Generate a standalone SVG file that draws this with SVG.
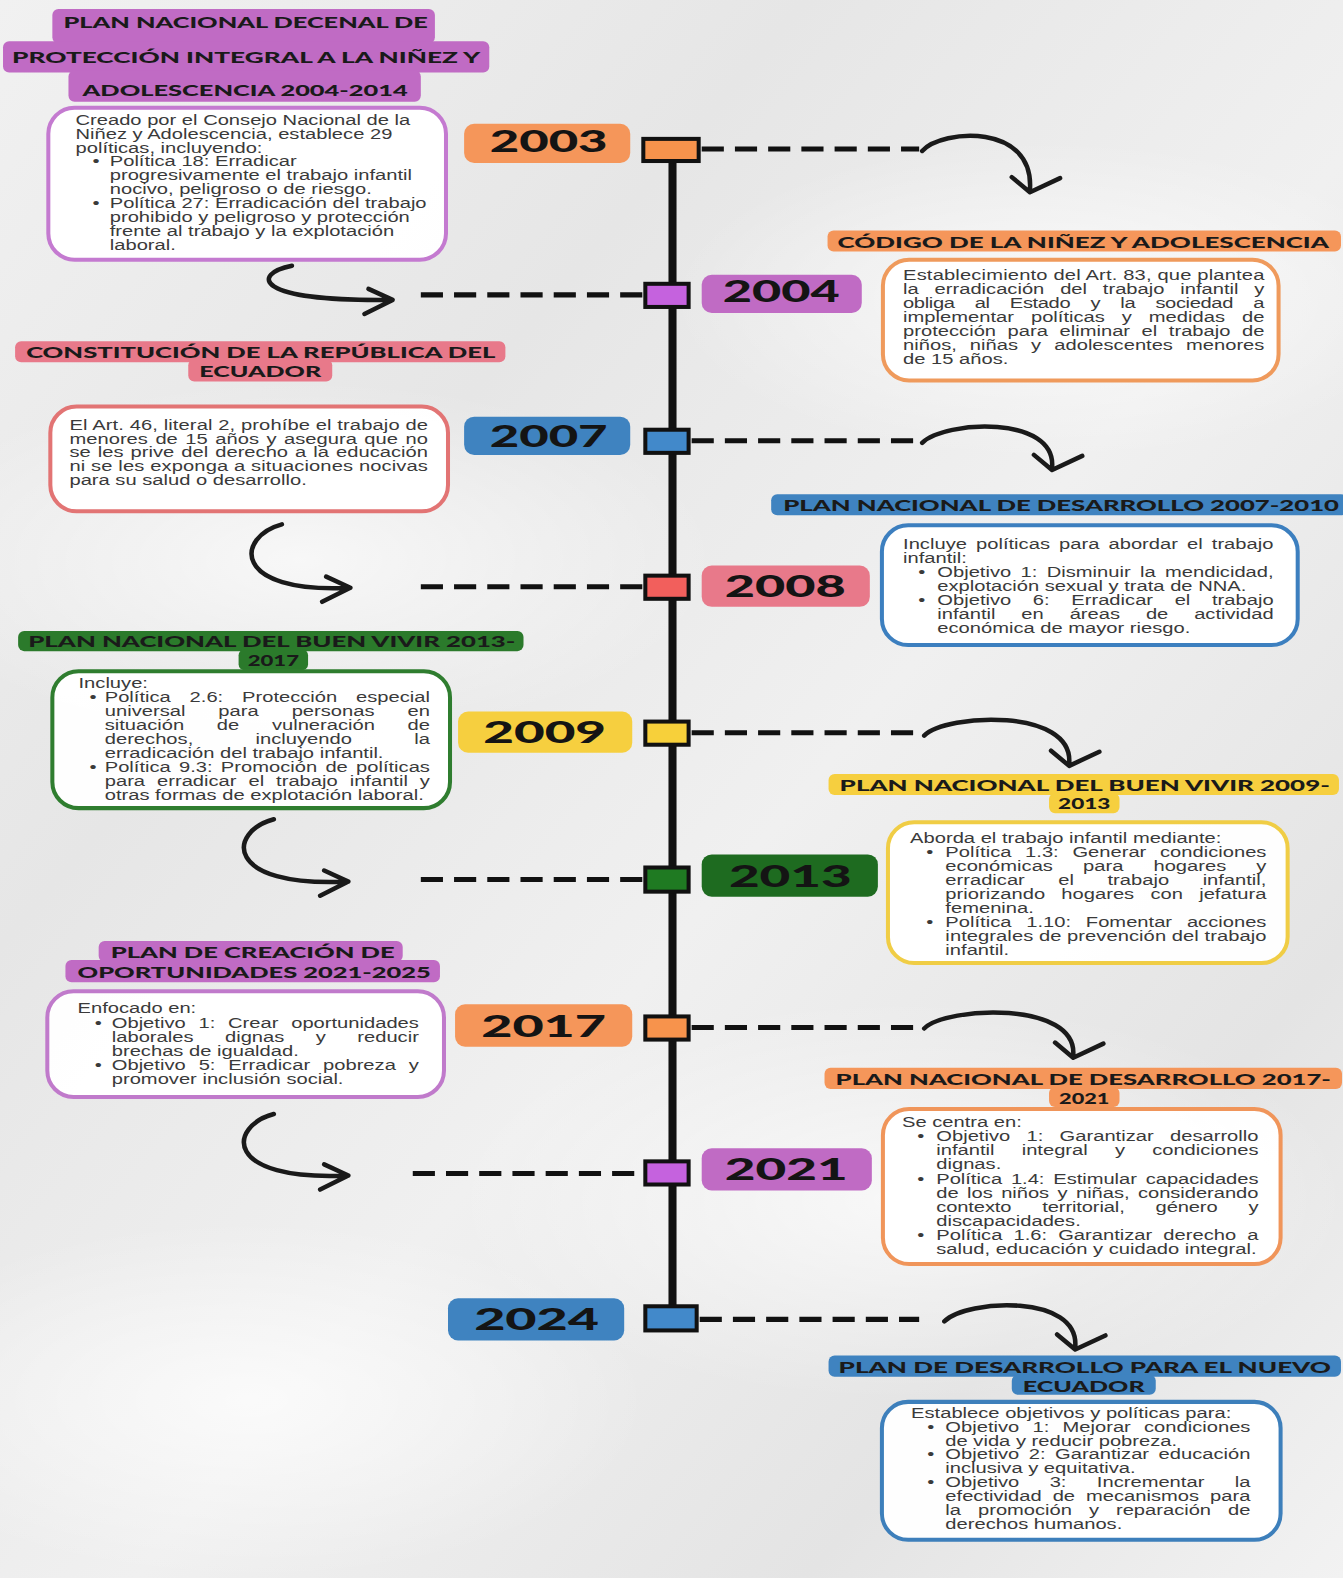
<svg xmlns="http://www.w3.org/2000/svg" width="1343" height="1578" viewBox="0 0 1343 1578">
<defs>
<linearGradient id="bg" x1="0" y1="0" x2="1" y2="1">
<stop offset="0" stop-color="#f1f1f1"/>
<stop offset="0.3" stop-color="#e6e6e6"/>
<stop offset="0.55" stop-color="#f0f0f0"/>
<stop offset="0.8" stop-color="#e4e4e4"/>
<stop offset="1" stop-color="#f2f2f2"/>
</linearGradient>
<radialGradient id="blob" cx="0.5" cy="0.5" r="0.5">
<stop offset="0" stop-color="#ffffff" stop-opacity="0.7"/>
<stop offset="1" stop-color="#ffffff" stop-opacity="0"/>
</radialGradient>
<style>
.t{font-family:"Liberation Sans",Arial,sans-serif;font-size:14px;fill:#3a3a3a}
.h{font-family:Lato,"DejaVu Sans",sans-serif;font-weight:900;font-size:15px;fill:#1a1a1a}
.y{font-family:Lato,"DejaVu Sans",sans-serif;font-weight:900;font-size:31px;fill:#141414;text-anchor:middle}
.box{fill:#ffffff;fill-opacity:0.96;stroke-width:4}
.sq{stroke:#111111;stroke-width:4}
.dash{stroke:#111111;stroke-width:5;stroke-dasharray:22 11;fill:none}
.arr{fill:none;stroke:#1a1a1a;stroke-width:4.5;stroke-linecap:round;stroke-linejoin:round}
.pu{fill:#c06bc4}.or{fill:#f5965a}.pk{fill:#e8798a}.bl{fill:#3f83c0}.gr{fill:#2b7a2b}.ye{fill:#f6cf3f}
</style>
</defs>
<rect x="0" y="0" width="1343" height="1578" fill="url(#bg)"/>
<ellipse cx="300" cy="560" rx="420" ry="180" fill="url(#blob)"/>
<ellipse cx="1050" cy="300" rx="380" ry="160" fill="url(#blob)"/>
<ellipse cx="900" cy="1200" rx="450" ry="200" fill="url(#blob)"/>
<ellipse cx="250" cy="1400" rx="400" ry="180" fill="url(#blob)"/>
<g transform="scale(1.00675 1.00638)">

<g id="connectors">
<line x1="668" y1="158" x2="668" y2="1300" stroke="#111111" stroke-width="8"/>
<line class="dash" x1="697" y1="148" x2="913" y2="148"/>
<line class="dash" x1="418" y1="293" x2="640" y2="293"/>
<line class="dash" x1="687" y1="438" x2="913" y2="438"/>
<line class="dash" x1="418" y1="583" x2="640" y2="583"/>
<line class="dash" x1="687" y1="728" x2="913" y2="728"/>
<line class="dash" x1="418" y1="874" x2="640" y2="874"/>
<line class="dash" x1="687" y1="1021" x2="913" y2="1021"/>
<line class="dash" x1="410" y1="1166" x2="640" y2="1166"/>
<line class="dash" x1="695" y1="1311" x2="913" y2="1311"/>
<path class="arr" d="M916,150 C936,128 1028,122 1023,189 M1005,176 L1023,191 L1053,177"/>
<path class="arr" d="M916,440 C938,418 1050,412 1045,465 M1027,452 L1045,467 L1075,453"/>
<path class="arr" d="M918,731 C940,709 1067,703 1062,759 M1044,746 L1062,761 L1092,747"/>
<path class="arr" d="M918,1022 C940,1000 1071,994 1066,1049 M1048,1036 L1066,1051 L1096,1037"/>
<path class="arr" d="M938,1313 C960,1291 1073,1285 1068,1339 M1050,1326 L1068,1341 L1098,1327"/>
<path class="arr" d="M290,264 C250,272 250,300 390,298 M366,287 L390,298 L362,312"/>
<path class="arr" d="M280,521 C235,533 228,590 348,584 M324,573 L348,584 L320,598"/>
<path class="arr" d="M272,814 C227,826 220,882 346,876 M322,865 L346,876 L318,890"/>
<path class="arr" d="M272,1107 C227,1119 220,1174 346,1168 M322,1157 L346,1168 L318,1182"/>
</g>

<g id="y2003"><rect class="sq" x="639" y="138" width="55" height="22" fill="#f7934c"/><rect class="or" x="461" y="123" width="165" height="39" rx="10"/><text class="y" x="545" y="151" textLength="117" lengthAdjust="spacingAndGlyphs">2003</text></g>
<g id="y2004"><rect class="sq" x="641" y="282" width="43" height="23" fill="#c562de"/><rect class="pu" x="697" y="273" width="159" height="38" rx="10"/><text class="y" x="776" y="300" textLength="116" lengthAdjust="spacingAndGlyphs">2004</text></g>
<g id="y2007"><rect class="sq" x="641" y="427" width="43" height="23" fill="#4289ca"/><rect class="bl" x="461" y="414" width="165" height="38" rx="10"/><text class="y" x="545" y="444" textLength="117" lengthAdjust="spacingAndGlyphs">2007</text></g>
<g id="y2008"><rect class="sq" x="641" y="572" width="43" height="23" fill="#f25f5c"/><rect class="pk" x="697" y="562" width="167" height="41" rx="10"/><text class="y" x="780" y="593" textLength="120" lengthAdjust="spacingAndGlyphs">2008</text></g>
<g id="y2009"><rect class="sq" x="641" y="717" width="43" height="23" fill="#f7d03a"/><rect class="ye" x="455" y="707" width="173" height="41" rx="10"/><text class="y" x="541" y="738" textLength="122" lengthAdjust="spacingAndGlyphs">2009</text></g>
<g id="y2013"><rect class="sq" x="641" y="862" width="43" height="24" fill="#1f7a22"/><rect x="697" y="849" width="175" height="42" rx="10" fill="#1e6b20"/><text class="y" x="785" y="881" textLength="122" lengthAdjust="spacingAndGlyphs">2013</text></g>
<g id="y2017"><rect class="sq" x="641" y="1010" width="43" height="23" fill="#f7934c"/><rect class="or" x="452" y="998" width="176" height="42" rx="10"/><text class="y" x="540" y="1030" textLength="124" lengthAdjust="spacingAndGlyphs">2017</text></g>
<g id="y2021"><rect class="sq" x="641" y="1154" width="43" height="23" fill="#c562de"/><rect class="pu" x="697" y="1141" width="169" height="42" rx="10"/><text class="y" x="781" y="1173" textLength="122" lengthAdjust="spacingAndGlyphs">2021</text></g>
<g id="y2024"><rect class="sq" x="641" y="1298" width="51" height="24" fill="#4289ca"/><rect class="bl" x="445" y="1290" width="175" height="42" rx="10"/><text class="y" x="533" y="1322" textLength="124" lengthAdjust="spacingAndGlyphs">2024</text></g>

<g id="n-decenal">
<rect class="pu" x="52" y="9" width="380" height="34" rx="6"/>
<rect class="pu" x="3" y="41" width="483" height="31" rx="6"/>
<rect class="pu" x="68" y="70" width="350" height="31" rx="6"/>
<text class="h" x="63" y="28" textLength="362" lengthAdjust="spacingAndGlyphs">PLAN NACIONAL DECENAL DE</text>
<text class="h" x="12" y="63" textLength="465" lengthAdjust="spacingAndGlyphs">PROTECCIÓN INTEGRAL A LA NIÑEZ Y</text>
<text class="h" x="82" y="95" textLength="323" lengthAdjust="spacingAndGlyphs">ADOLESCENCIA 2004-2014</text>
<rect class="box" x="48" y="107" width="395" height="151" rx="26" stroke="#c47ad0"/>
<g transform="translate(75 0) scale(1.43 1)">
<text class="t" x="0" y="124">Creado por el Consejo Nacional de la</text>
<text class="t" x="0" y="137.8">Niñez y Adolescencia, establece 29</text>
<text class="t" x="0" y="151.6">políticas, incluyendo:</text>
<text class="t" x="11.9" y="165.4">•</text><text class="t" x="23.8" y="165.4">Política 18: Erradicar</text>
<text class="t" x="23.8" y="179.2">progresivamente el trabajo infantil</text>
<text class="t" x="23.8" y="193">nocivo, peligroso o de riesgo.</text>
<text class="t" x="11.9" y="206.8">•</text><text class="t" x="23.8" y="206.8">Política 27: Erradicación del trabajo</text>
<text class="t" x="23.8" y="220.6">prohibido y peligroso y protección</text>
<text class="t" x="23.8" y="234.4">frente al trabajo y la explotación</text>
<text class="t" x="23.8" y="248.2">laboral.</text>
</g>
</g>

<g id="n-codigo">
<rect class="or" x="822" y="229" width="510" height="21" rx="6"/>
<text class="h" x="832" y="246" textLength="488" lengthAdjust="spacingAndGlyphs">CÓDIGO DE LA NIÑEZ Y ADOLESCENCIA</text>
<rect class="box" x="877" y="258" width="393" height="120" rx="26" stroke="#ef9a5c"/>
<g transform="translate(897 0) scale(1.43 1)">
<text class="t" x="0" y="278" textLength="251" lengthAdjust="spacing">Establecimiento del Art. 83, que plantea</text>
<text class="t" x="0" y="292" word-spacing="7.1" textLength="251" lengthAdjust="spacing">la erradicación del trabajo infantil y</text>
<text class="t" x="0" y="306" word-spacing="10.4" textLength="251" lengthAdjust="spacing">obliga al Estado y la sociedad a</text>
<text class="t" x="0" y="320" word-spacing="7.9" textLength="251" lengthAdjust="spacing">implementar políticas y medidas de</text>
<text class="t" x="0" y="334" word-spacing="4.1" textLength="251" lengthAdjust="spacing">protección para eliminar el trabajo de</text>
<text class="t" x="0" y="348" word-spacing="5.2" textLength="251" lengthAdjust="spacing">niños, niñas y adolescentes menores</text>
<text class="t" x="0" y="362">de 15 años.</text>
</g>
</g>

<g id="n-constitucion">
<rect class="pk" x="15" y="339" width="487" height="21" rx="6"/>
<rect class="pk" x="187" y="357" width="143" height="22" rx="6"/>
<text class="h" x="26" y="356" textLength="466" lengthAdjust="spacingAndGlyphs">CONSTITUCIÓN DE LA REPÚBLICA DEL</text>
<text class="h" x="198" y="375" textLength="121" lengthAdjust="spacingAndGlyphs">ECUADOR</text>
<rect class="box" x="50" y="404" width="395" height="104" rx="26" stroke="#e27474"/>
<g transform="translate(69 0) scale(1.43 1)">
<text class="t" x="0" y="427" textLength="249" lengthAdjust="spacing">El Art. 46, literal 2, prohíbe el trabajo de</text>
<text class="t" x="0" y="440.75" word-spacing="1.3" textLength="249" lengthAdjust="spacing">menores de 15 años y asegura que no</text>
<text class="t" x="0" y="454.5" word-spacing="1" textLength="249" lengthAdjust="spacing">se les prive del derecho a la educación</text>
<text class="t" x="0" y="468.25" textLength="249" lengthAdjust="spacing">ni se les exponga a situaciones nocivas</text>
<text class="t" x="0" y="482">para su salud o desarrollo.</text>
</g>
</g>

<g id="n-pnd2007">
<rect class="bl" x="766" y="491" width="572" height="21" rx="6"/>
<text class="h" x="778" y="508" textLength="552" lengthAdjust="spacingAndGlyphs">PLAN NACIONAL DE DESARROLLO 2007-2010</text>
<rect class="box" x="876" y="522" width="413" height="119" rx="26" stroke="#3c7fbf"/>
<g transform="translate(897 0) scale(1.43 1)">
<text class="t" x="0" y="546" word-spacing="2.4" textLength="257.3" lengthAdjust="spacing">Incluye políticas para abordar el trabajo</text>
<text class="t" x="0" y="559.8">infantil:</text>
<text class="t" x="10.5" y="573.6">•</text><text class="t" x="23.8" y="573.6" word-spacing="2.6" textLength="233.6" lengthAdjust="spacing">Objetivo 1: Disminuir la mendicidad,</text>
<text class="t" x="23.8" y="587.4">explotación sexual y trata de NNA.</text>
<text class="t" x="10.5" y="601.2">•</text><text class="t" x="23.8" y="601.2" word-spacing="11.1" textLength="233.6" lengthAdjust="spacing">Objetivo 6: Erradicar el trabajo</text>
<text class="t" x="23.8" y="615" word-spacing="14.1" textLength="233.6" lengthAdjust="spacing">infantil en áreas de actividad</text>
<text class="t" x="23.8" y="628.8">económica de mayor riesgo.</text>
</g>
</g>

<g id="n-buenvivir2013">
<rect class="gr" x="18" y="627" width="502" height="20" rx="6"/>
<rect class="gr" x="237" y="645" width="69" height="21" rx="6"/>
<text class="h" x="28" y="643" textLength="484" lengthAdjust="spacingAndGlyphs">PLAN NACIONAL DEL BUEN VIVIR 2013-</text>
<text class="h" x="246" y="662" textLength="51" lengthAdjust="spacingAndGlyphs">2017</text>
<rect class="box" x="52" y="667" width="395" height="136" rx="26" stroke="#2f7d2f"/>
<g transform="translate(78 0) scale(1.43 1)">
<text class="t" x="0" y="684">Incluye:</text>
<text class="t" x="7.7" y="697.9">•</text><text class="t" x="18.2" y="697.9" word-spacing="9.2" textLength="225.9" lengthAdjust="spacing">Política 2.6: Protección especial</text>
<text class="t" x="18.2" y="711.8" word-spacing="19" textLength="225.9" lengthAdjust="spacing">universal para personas en</text>
<text class="t" x="18.2" y="725.7" word-spacing="18.8" textLength="225.9" lengthAdjust="spacing">situación de vulneración de</text>
<text class="t" x="18.2" y="739.6" word-spacing="39.4" textLength="225.9" lengthAdjust="spacing">derechos, incluyendo la</text>
<text class="t" x="18.2" y="753.5">erradicación del trabajo infantil.</text>
<text class="t" x="7.7" y="767.4">•</text><text class="t" x="18.2" y="767.4" word-spacing="1.8" textLength="225.9" lengthAdjust="spacing">Política 9.3: Promoción de políticas</text>
<text class="t" x="18.2" y="781.3" word-spacing="4.4" textLength="225.9" lengthAdjust="spacing">para erradicar el trabajo infantil y</text>
<text class="t" x="18.2" y="795.2">otras formas de explotación laboral.</text>
</g>
</g>

<g id="n-buenvivir2009">
<rect class="ye" x="823" y="769" width="507" height="21" rx="6"/>
<rect class="ye" x="1042" y="788" width="70" height="20" rx="6"/>
<text class="h" x="834" y="786" textLength="487" lengthAdjust="spacingAndGlyphs">PLAN NACIONAL DEL BUEN VIVIR 2009-</text>
<text class="h" x="1051" y="804" textLength="52" lengthAdjust="spacingAndGlyphs">2013</text>
<rect class="box" x="882" y="817" width="397" height="140" rx="26" stroke="#f0cd45"/>
<g transform="translate(904 0) scale(1.43 1)">
<text class="t" x="0" y="838">Aborda el trabajo infantil mediante:</text>
<text class="t" x="11.2" y="851.9">•</text><text class="t" x="24.5" y="851.9" word-spacing="5.6" textLength="223" lengthAdjust="spacing">Política 1.3: Generar condiciones</text>
<text class="t" x="24.5" y="865.8" word-spacing="17" textLength="223" lengthAdjust="spacing">económicas para hogares y</text>
<text class="t" x="24.5" y="879.7" word-spacing="19.4" textLength="223" lengthAdjust="spacing">erradicar el trabajo infantil,</text>
<text class="t" x="24.5" y="893.6" word-spacing="7.4" textLength="223" lengthAdjust="spacing">priorizando hogares con jefatura</text>
<text class="t" x="24.5" y="907.5">femenina.</text>
<text class="t" x="11.2" y="921.4">•</text><text class="t" x="24.5" y="921.4" word-spacing="6.4" textLength="223" lengthAdjust="spacing">Política 1.10: Fomentar acciones</text>
<text class="t" x="24.5" y="935.3" textLength="223" lengthAdjust="spacing">integrales de prevención del trabajo</text>
<text class="t" x="24.5" y="949.2">infantil.</text>
</g>
</g>

<g id="n-creacion">
<rect class="pu" x="98" y="935" width="302" height="21" rx="6"/>
<rect class="pu" x="65" y="954" width="372" height="22" rx="6"/>
<text class="h" x="110" y="952" textLength="282" lengthAdjust="spacingAndGlyphs">PLAN DE CREACIÓN DE</text>
<text class="h" x="77" y="972" textLength="351" lengthAdjust="spacingAndGlyphs">OPORTUNIDADES 2021-2025</text>
<rect class="box" x="47" y="985" width="394" height="105" rx="26" stroke="#c07acb"/>
<g transform="translate(77 0) scale(1.43 1)">
<text class="t" x="0" y="1007">Enfocado en:</text>
<text class="t" x="11.9" y="1021">•</text><text class="t" x="23.8" y="1021" word-spacing="5" textLength="213.3" lengthAdjust="spacing">Objetivo 1: Crear oportunidades</text>
<text class="t" x="23.8" y="1035" word-spacing="18" textLength="213.3" lengthAdjust="spacing">laborales dignas y reducir</text>
<text class="t" x="23.8" y="1049">brechas de igualdad.</text>
<text class="t" x="11.9" y="1063">•</text><text class="t" x="23.8" y="1063" word-spacing="5.1" textLength="213.3" lengthAdjust="spacing">Objetivo 5: Erradicar pobreza y</text>
<text class="t" x="23.8" y="1077">promover inclusión social.</text>
</g>
</g>

<g id="n-pnd2017">
<rect class="or" x="819" y="1061" width="514" height="21" rx="6"/>
<rect class="or" x="1042" y="1080" width="70" height="20" rx="6"/>
<text class="h" x="830" y="1078" textLength="492" lengthAdjust="spacingAndGlyphs">PLAN NACIONAL DE DESARROLLO 2017-</text>
<text class="h" x="1052" y="1097" textLength="50" lengthAdjust="spacingAndGlyphs">2021</text>
<rect class="box" x="877" y="1102" width="395" height="154" rx="26" stroke="#f0955a"/>
<g transform="translate(896 0) scale(1.43 1)">
<text class="t" x="0" y="1120">Se centra en:</text>
<text class="t" x="10.5" y="1134">•</text><text class="t" x="23.8" y="1134" word-spacing="7.4" textLength="223.8" lengthAdjust="spacing">Objetivo 1: Garantizar desarrollo</text>
<text class="t" x="23.8" y="1148" word-spacing="15" textLength="223.8" lengthAdjust="spacing">infantil integral y condiciones</text>
<text class="t" x="23.8" y="1162">dignas.</text>
<text class="t" x="10.5" y="1176">•</text><text class="t" x="23.8" y="1176" word-spacing="2.3" textLength="223.8" lengthAdjust="spacing">Política 1.4: Estimular capacidades</text>
<text class="t" x="23.8" y="1190" word-spacing="2" textLength="223.8" lengthAdjust="spacing">de los niños y niñas, considerando</text>
<text class="t" x="23.8" y="1204" word-spacing="17.7" textLength="223.8" lengthAdjust="spacing">contexto territorial, género y</text>
<text class="t" x="23.8" y="1218">discapacidades.</text>
<text class="t" x="10.5" y="1232">•</text><text class="t" x="23.8" y="1232" word-spacing="3.8" textLength="223.8" lengthAdjust="spacing">Política 1.6: Garantizar derecho a</text>
<text class="t" x="23.8" y="1246">salud, educación y cuidado integral.</text>
</g>
</g>

<g id="n-nuevoecuador">
<rect class="bl" x="823" y="1347" width="509" height="21" rx="6"/>
<rect class="bl" x="1005" y="1366" width="143" height="20" rx="6"/>
<text class="h" x="833" y="1364" textLength="489" lengthAdjust="spacingAndGlyphs">PLAN DE DESARROLLO PARA EL NUEVO</text>
<text class="h" x="1016" y="1383" textLength="121" lengthAdjust="spacingAndGlyphs">ECUADOR</text>
<rect class="box" x="876" y="1393" width="396" height="137" rx="26" stroke="#3d7fbb"/>
<g transform="translate(905 0) scale(1.43 1)">
<text class="t" x="0" y="1409">Establece objetivos y políticas para:</text>
<text class="t" x="11.2" y="1422.75">•</text><text class="t" x="23.8" y="1422.75" word-spacing="5.3" textLength="211.9" lengthAdjust="spacing">Objetivo 1: Mejorar condiciones</text>
<text class="t" x="23.8" y="1436.5">de vida y reducir pobreza.</text>
<text class="t" x="11.2" y="1450.25">•</text><text class="t" x="23.8" y="1450.25" word-spacing="2.7" textLength="211.9" lengthAdjust="spacing">Objetivo 2: Garantizar educación</text>
<text class="t" x="23.8" y="1464">inclusiva y equitativa.</text>
<text class="t" x="11.2" y="1477.75">•</text><text class="t" x="23.8" y="1477.75" word-spacing="17.2" textLength="211.9" lengthAdjust="spacing">Objetivo 3: Incrementar la</text>
<text class="t" x="23.8" y="1491.5" word-spacing="3.7" textLength="211.9" lengthAdjust="spacing">efectividad de mecanismos para</text>
<text class="t" x="23.8" y="1505.25" word-spacing="7.9" textLength="211.9" lengthAdjust="spacing">la promoción y reparación de</text>
<text class="t" x="23.8" y="1519">derechos humanos.</text>
</g>
</g>

</g>
</svg>
